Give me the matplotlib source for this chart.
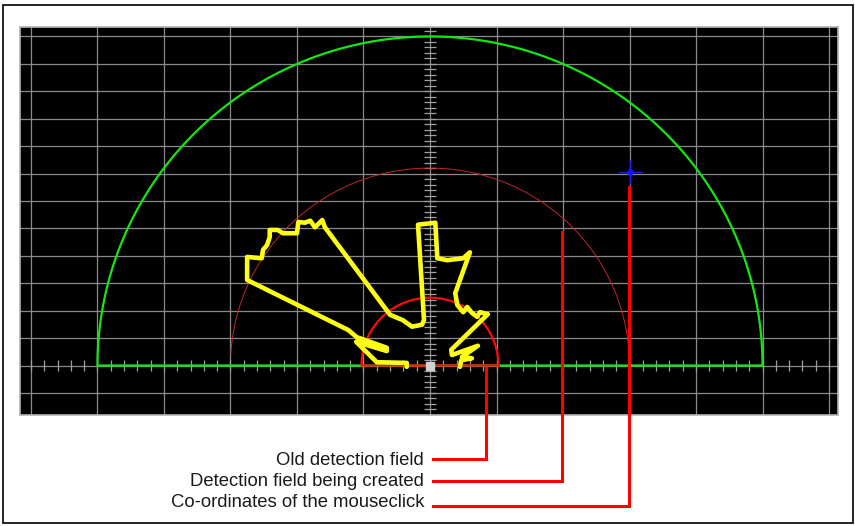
import numpy as np
import matplotlib.pyplot as plt
from matplotlib.patches import Rectangle

plt.rcParams['font.family'] = ['Liberation Sans', 'DejaVu Sans']

W, H = 855, 526

# fields (semicircle radii, metres)
new_field_r = 5.0
created_field_r = 3.0
old_field_r = 1.03

# mouse click position
click_x, click_y = 3.0, 2.94

# freehand field drawn by the user (yellow)
yellow_x = [-0.35, -0.35, -0.80, -1.11, -0.65, -0.65, -1.10, -1.23, -2.75, -2.75,
            -2.53, -2.51, -2.45, -2.41, -2.41, -2.29, -2.21, -2.00, -1.98, -1.88,
            -1.80, -1.73, -1.62, -1.58, -0.60, -0.41, -0.27, -0.12, -0.09, -0.18,
            0.08, 0.11, 0.26, 0.42, 0.50, 0.60, 0.38, 0.41, 0.50, 0.56,
            0.63, 0.71, 0.75, 0.87, 0.32, 0.33, 0.72, 0.48, 0.63, 0.47, 0.45]
yellow_y = [-0.02, 0.04, 0.05, 0.36, 0.22, 0.27, 0.43, 0.54, 1.30, 1.65,
            1.63, 1.76, 1.83, 1.95, 2.06, 2.06, 2.01, 2.01, 2.18, 2.17,
            2.20, 2.10, 2.21, 2.10, 0.77, 0.69, 0.59, 0.62, 0.69, 2.14,
            2.17, 1.63, 1.60, 1.62, 1.63, 1.72, 1.10, 0.92, 0.81, 0.89,
            0.80, 0.74, 0.81, 0.78, 0.24, 0.16, 0.30, 0.13, 0.11, 0.08, -0.02]

# callouts
labels = ['Old detection field', 'Detection field being created',
          'Co-ordinates of the mouseclick']
leader_x = [0.84, 1.985, 2.99]
leader_top = [-0.04, 2.03, 2.72]
leader_row_px = [459, 481, 506]
label_base_px = [465, 486, 507]

grid_x = np.arange(-6, 7, 1.0)
grid_y = np.arange(-1, 13) * 5 / 12

fig = plt.figure(figsize=(W / 100, H / 100), dpi=100)
ax = fig.add_axes([20 / W, 1 - 415 / H, 818 / W, 388 / H])
ax.set_facecolor('black')
ax.set_xlim(-6.165, 6.135)
ax.set_ylim(-0.752, 5.144)
ax.set_xticks([])
ax.set_yticks([])
for s in ax.spines.values():
    s.set_color('#b4b4b4')
    s.set_linewidth(1.2)

gc = '#8a8a8a'
for gx in grid_x:
    ax.axvline(gx, color=gc, lw=0.9, zorder=1)
for gy in grid_y:
    ax.axhline(gy, color=gc, lw=0.9, zorder=1)

# scale ticks on the axes through the sensor
tx = np.arange(-30, 31) * 0.2
ax.vlines(tx, -0.09, 0.09, color='#a0a0a0', lw=0.9, zorder=2)
ty = np.arange(-8, 62) / 12
ax.hlines(ty, -0.09, 0.09, color='#a0a0a0', lw=0.9, zorder=2)

t = np.linspace(0, np.pi, 400)
t2 = np.linspace(np.radians(3.5), np.radians(176.5), 400)
ax.plot(created_field_r * np.cos(t2), created_field_r * np.sin(t2),
        color='#c0282a', lw=0.7, zorder=3)
ax.plot(np.r_[new_field_r * np.cos(t), new_field_r], np.r_[new_field_r * np.sin(t), 0],
        color='#14e614', lw=1.6, zorder=4)
ax.plot(np.r_[old_field_r * np.cos(t), old_field_r], np.r_[old_field_r * np.sin(t), 0],
        color='#ff0a0a', lw=1.6, zorder=5)

ax.plot(yellow_x, yellow_y, color='#ffff14', lw=3.3, solid_joinstyle='round',
        solid_capstyle='round', zorder=6)

ax.plot([0], [0], marker='s', ms=6.2, color='#d2d2d2', mec='#d2d2d2', zorder=7)

ax.plot([click_x], [click_y], marker='+', ms=17, mew=1.0, color='#1a1aff', zorder=7)
ax.plot([click_x], [click_y], marker='o', ms=3.5, mew=1.0, mfc='none', mec='#1a1aff', zorder=7)

# callout lines and labels below the screen
fig.canvas.draw()
inv = ax.transData.inverted()


def fig_px(px, py):
    return inv.transform(fig.transFigure.transform((px / W, 1 - py / H)))


for lab, lx, ltop, row, base in zip(labels, leader_x, leader_top, leader_row_px, label_base_px):
    x0, yrow = fig_px(433, row)
    ax.plot([x0, lx, lx], [yrow, yrow, ltop], color='#ff0000', lw=2.2,
            solid_joinstyle='miter', clip_on=False, zorder=8)
    fig.text(424 / W, 1 - base / H, lab, ha='right', va='baseline',
             fontsize=13.3, color='#1a1a1a')

fig.patches.append(Rectangle((2.5 / W, 1 - 523 / H), 850 / W, 518 / H,
                             transform=fig.transFigure, fill=False,
                             edgecolor='black', lw=1.2))

fig.savefig('out.png', dpi=100)
